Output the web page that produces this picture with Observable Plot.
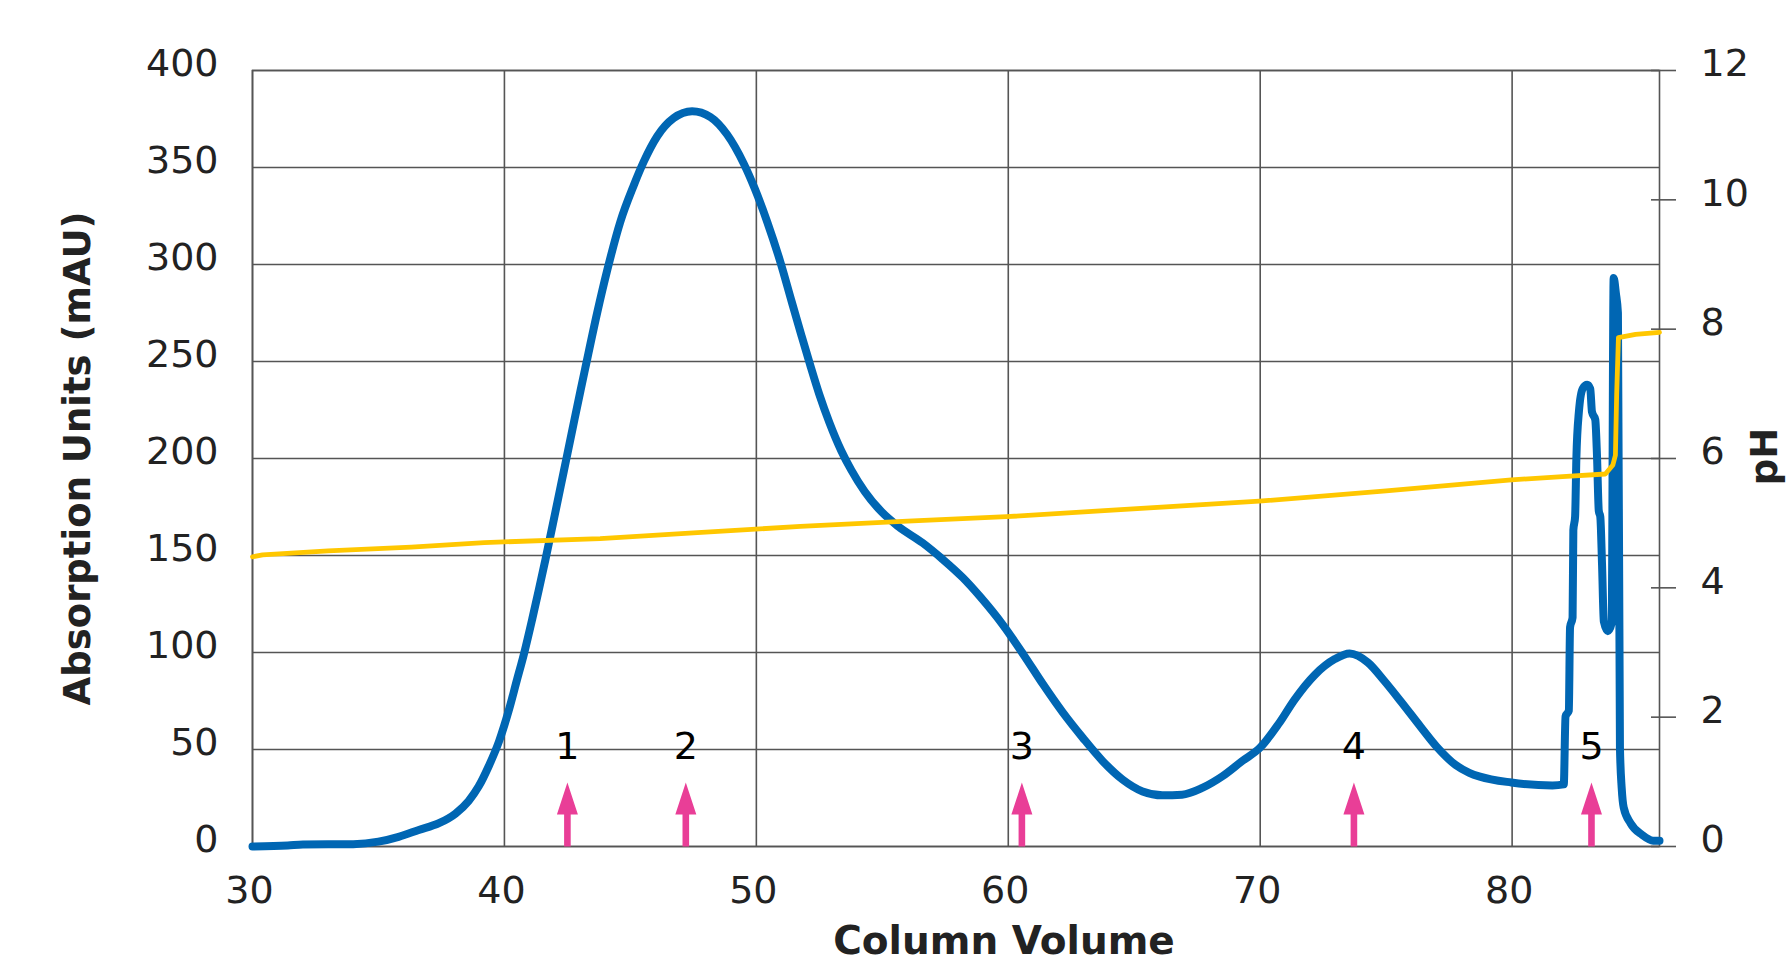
<!DOCTYPE html>
<html>
<head>
<meta charset="utf-8">
<script src="https://cdn.jsdelivr.net/npm/d3@7"></script>
<script src="https://cdn.jsdelivr.net/npm/@observablehq/plot@0.6"></script>
<style>
  html, body { margin: 0; padding: 0; background: #fff; overflow: hidden; }
</style>
</head>
<body>
<div id="chart"></div>
<script>
// Absorption (mAU) trace vs column volume
const absX = [30, 31.4, 32, 34, 35, 35.8, 36.6, 37.4, 38.06, 38.58, 38.98, 39.38, 39.78, 40.17, 40.5, 40.77, 41.1, 41.36, 41.63, 42.0,
  42.35, 42.7, 43.02, 43.2, 43.68, 44.08, 44.6, 45.14, 45.53, 46.06, 46.72, 47.45, 48.18, 48.84, 49.5, 49.94, 50.43, 50.96,
  51.4, 51.8, 52.13, 52.5, 52.9, 53.37, 53.77, 54.3, 54.97, 55.63, 56.6, 57.4, 58.2, 58.9, 59.8, 60.6, 61.38, 62.17,
  62.96, 63.75, 64.54, 65.33, 66.12, 66.9, 67.7, 68.5, 69.28, 70, 70.72, 71.38, 72.17, 72.96, 73.55, 74.28, 74.93, 75.6,
  76.38, 77.0, 77.76, 78.3, 78.72, 79.97, 81.6, 82.05, 82.12, 82.25, 82.3, 82.4, 82.43, 82.5, 82.55, 82.65, 82.8, 82.98, 83.1,
  83.17, 83.3, 83.37, 83.44, 83.5, 83.57, 83.64, 83.8, 83.95, 84.03, 84.12, 84.2, 84.28, 84.35, 84.43, 84.7, 85.16, 85.6, 85.85];
const absY = [0, 0.5, 1, 1.2, 2.5, 5, 8.5, 12, 17, 23.5, 31, 41.5, 54, 70, 86, 99, 117, 132, 148, 171,
  193, 215, 235, 246, 275, 297, 322, 341, 353, 366, 375.5, 379, 376, 367, 352, 339, 322, 301,
  281, 263, 248.5, 233, 218.5, 204, 194, 183, 172.5, 165, 156.5, 148, 138.5, 128.5, 114, 99, 83.6, 69,
  56, 44, 34.5, 28.4, 26.4, 26.7, 30.2, 36.2, 44, 51, 63, 76, 88.5, 96.6, 99.5, 94.8, 85.3, 74.5,
  61.5, 51.5, 42, 38, 36, 33, 31.5, 32, 67, 70, 113, 118, 163, 170, 200, 224, 236, 238, 236,
  224, 220, 201, 173, 170, 145, 116, 111, 115, 293, 285, 275, 51, 30, 20, 12, 6, 3, 3];

// pH trace vs column volume
const phX = [30, 30.4, 33, 36.3, 39.2, 43.8, 47.5, 51.75, 56, 59.93, 63.65, 69.96, 75, 79.97, 82, 83.7, 84.0, 84.1, 84.15, 84.22, 84.9, 85.85];
const phY = [4.48, 4.51, 4.57, 4.63, 4.70, 4.76, 4.85, 4.95, 5.03, 5.10, 5.19, 5.34, 5.5, 5.67, 5.72, 5.76, 5.9, 6.05, 7.0, 7.87, 7.92, 7.95];

// Fraction markers
const fractionX = [42.5, 47.2, 60.54, 73.72, 83.15];
const fractionLabels = ["1", "2", "3", "4", "5"];

// Axis ticks
const xTicks = [30, 40, 50, 60, 70, 80];
const yTicks = [0, 50, 100, 150, 200, 250, 300, 350, 400];
const phTicks = [0, 2, 4, 6, 8, 10, 12];

const xTitle = "Column Volume";
const yTitle = "Absorption Units (mAU)";
const y2Title = "pH";

// pH (0–12) mapped onto the absorbance scale (0–400)
const phToAbs = p => p * 400 / 12;
const absToPh = a => a * 12 / 400;

const absData = absX.map((x, i) => ({x, y: absY[i]}));
const phData = phX.map((x, i) => ({x, y: phToAbs(phY[i])}));
const fractions = fractionX.map((x, i) => ({x, label: fractionLabels[i]}));

const gridColor = "#555";
const blue = "#0066b3";
const yellow = "#ffc700";
const pink = "#e93e97";

const arrowShape = {
  draw(context, l) {
    const hh = 32, hw = 10.5, sw = 3.3;
    context.moveTo(-sw, 0);
    context.lineTo(-sw, -(l - hh));
    context.lineTo(-hw, -(l - hh));
    context.lineTo(0, -l);
    context.lineTo(hw, -(l - hh));
    context.lineTo(sw, -(l - hh));
    context.lineTo(sw, 0);
    context.closePath();
  }
};

const chart = Plot.plot({
  width: 1788,
  height: 963,
  marginLeft: 252,
  marginRight: 129,
  marginTop: 70,
  marginBottom: 117,
  x: {domain: [30, 85.85]},
  y: {domain: [0, 400]},
  style: {fontFamily: "DejaVu Sans", fontSize: "38px", color: "#222", background: "#fff"},
  marks: [
    Plot.gridX(xTicks, {stroke: gridColor, strokeOpacity: 1, strokeWidth: 1.6}),
    Plot.gridY(yTicks, {stroke: gridColor, strokeOpacity: 1, strokeWidth: 1.6}),
    Plot.frame({stroke: gridColor, strokeWidth: 1.6}),
    Plot.axisX(xTicks, {tickSize: 0, tickPadding: 30, dx: -3, label: null, fontSize: 38}),
    Plot.axisY(yTicks, {tickSize: 0, tickPadding: 34, dy: -6.5, label: null, fontSize: 38}),
    Plot.axisY(phTicks.map(phToAbs), {anchor: "right", tickSize: 25, dx: -9, tickFormat: () => "", label: null, stroke: gridColor, strokeWidth: 1.6}),
    Plot.axisY(phTicks.map(phToAbs), {anchor: "right", tickSize: 0, tickPadding: 41, dy: -6.5, tickFormat: d => String(Math.round(absToPh(d))), label: null, fontSize: 38}),
    Plot.line(absData, {x: "x", y: "y", stroke: blue, strokeWidth: 8, curve: "monotone-x", strokeLinejoin: "round", strokeLinecap: "round"}),
    Plot.line(phData, {x: "x", y: "y", stroke: yellow, strokeWidth: 4.8, strokeLinejoin: "round"}),
    Plot.vector(fractions, {x: "x", frameAnchor: "bottom", length: 64, anchor: "start", shape: arrowShape, fill: pink, stroke: "none"}),
    Plot.text(fractions, {x: "x", frameAnchor: "bottom", dy: -88, text: "label", fontSize: 38, fill: "#000"}),
    Plot.text([xTitle], {frameAnchor: "bottom", text: d => d, textAnchor: "middle", dy: 107, dx: 48, fontWeight: "bold", fontSize: 39, fill: "#222"}),
    Plot.text([yTitle], {frameAnchor: "left", text: d => d, textAnchor: "middle", rotate: -90, dx: -174.5, fontWeight: "bold", fontSize: 37, fill: "#222"}),
    Plot.text([y2Title], {frameAnchor: "right", text: d => d, textAnchor: "middle", rotate: -90, dx: 106, dy: -2, fontWeight: "bold", fontSize: 37, fill: "#222"})
  ]
});

document.getElementById("chart").appendChild(chart);
</script>
</body>
</html>
